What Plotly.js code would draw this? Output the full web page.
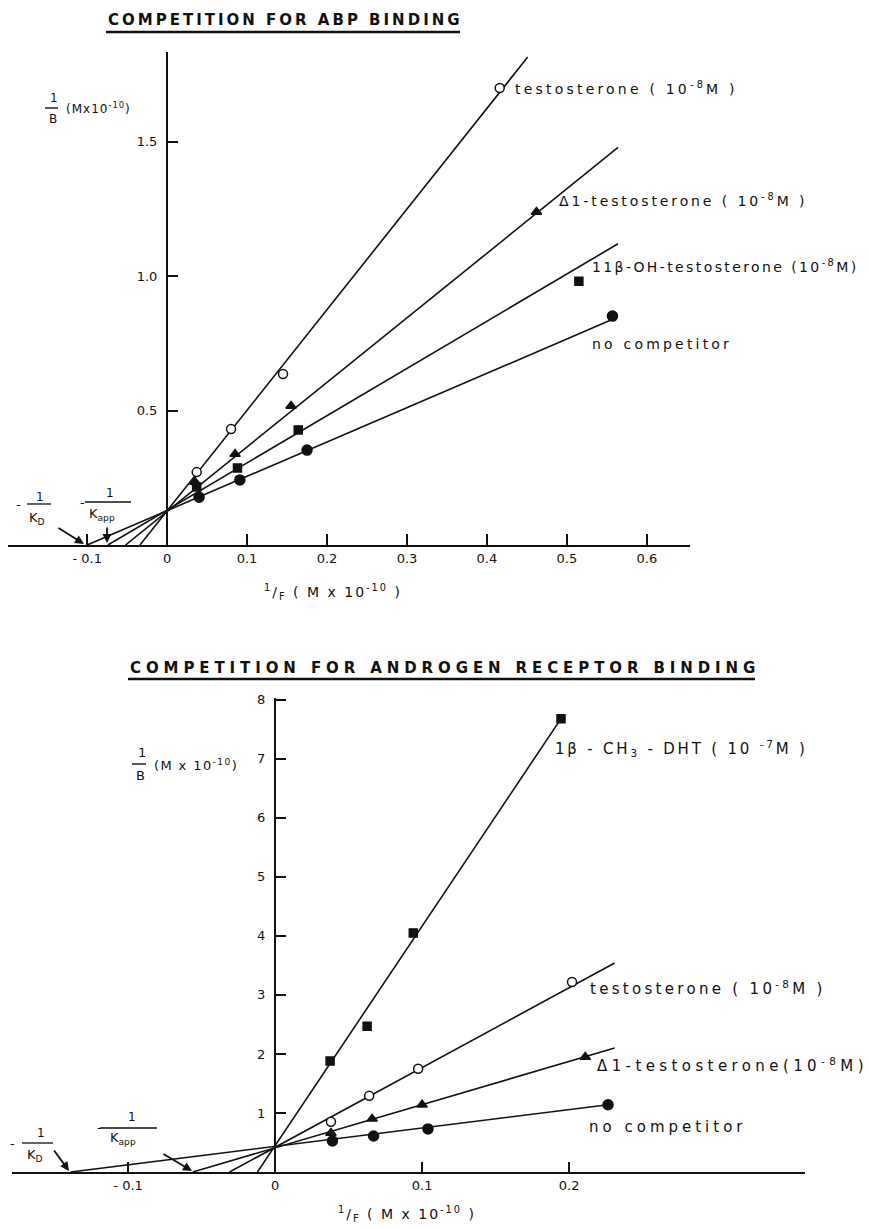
<!DOCTYPE html>
<html>
<head>
<meta charset="utf-8">
<script src="https://cdn.plot.ly/plotly-3.0.1.min.js"></script>
<style>
html,body{margin:0;padding:0;background:#fff;}
#chart{width:869px;height:1229px;}
</style>
</head>
<body>
<div id="chart"></div>
<script>
// ---------- DATA ----------
// Top panel: competition for ABP binding
const topNoCompX = [0.040, 0.091, 0.175, 0.557];
const topNoCompY = [0.178, 0.242, 0.353, 0.851];
const top11bX = [0.037, 0.088, 0.164, 0.515];
const top11bY = [0.216, 0.286, 0.428, 0.981];
const topD1X = [0.035, 0.085, 0.155, 0.462];
const topD1Y = [0.234, 0.338, 0.517, 1.238];
const topTestoX = [0.037, 0.080, 0.145, 0.416];
const topTestoY = [0.271, 0.431, 0.636, 1.699];
// fitted lines (end points)
const topNoCompLineX = [-0.100, 0.558], topNoCompLineY = [0, 0.840];
const top11bLineX = [-0.074, 0.564], top11bLineY = [0, 1.120];
const topD1LineX = [-0.052, 0.564], topD1LineY = [0, 1.478];
const topTestoLineX = [-0.034, 0.451], topTestoLineY = [0, 1.814];
const topXTicks = [-0.1, 0, 0.1, 0.2, 0.3, 0.4, 0.5, 0.6];
const topXTickText = ["- 0.1", "0", "0.1", "0.2", "0.3", "0.4", "0.5", "0.6"];
const topYTicks = [0.5, 1.0, 1.5];
const topYTickText = ["0.5", "1.0", "1.5"];

// Bottom panel: competition for androgen receptor binding
const botNoCompX = [0.039, 0.067, 0.104, 0.2265];
const botNoCompY = [0.525, 0.61, 0.73, 1.14];
const botD1X = [0.038, 0.066, 0.100, 0.211];
const botD1Y = [0.66, 0.90, 1.14, 1.95];
const botTestoX = [0.038, 0.064, 0.0973, 0.202];
const botTestoY = [0.85, 1.29, 1.75, 3.22];
const botDhtX = [0.0374, 0.0626, 0.094, 0.1945];
const botDhtY = [1.88, 2.47, 4.05, 7.68];
const botNoCompLineX = [-0.139, 0.2265], botNoCompLineY = [0, 1.14];
const botD1LineX = [-0.056, 0.231], botD1LineY = [0, 2.10];
const botTestoLineX = [-0.031, 0.231], botTestoLineY = [0, 3.54];
const botDhtLineX = [-0.012, 0.1945], botDhtLineY = [0, 7.68];
const botXTicks = [-0.1, 0, 0.1, 0.2];
const botXTickText = ["- 0.1", "0", "0.1", "0.2"];
const botYTicks = [1, 2, 3, 4, 5, 6, 7, 8];
const botYTickText = ["1", "2", "3", "4", "5", "6", "7", "8"];

// ---------- LAYOUT HELPERS ----------
const W = 869, H = 1229;
const PX = v => v / W;
const PY = v => 1 - v / H;
const FONT = "DejaVu Sans, Verdana, sans-serif";
const INK = "#111";

function line(x, y, xa, ya) {
  return {x: x, y: y, xaxis: xa, yaxis: ya, mode: "lines", type: "scatter",
          line: {color: INK, width: 1.6}, hoverinfo: "skip", showlegend: false, cliponaxis: true};
}
function pts(x, y, xa, ya, symbol, size, fill) {
  return {x: x, y: y, xaxis: xa, yaxis: ya, mode: "markers", type: "scatter",
          marker: {symbol: symbol, size: size, color: fill, line: {color: INK, width: 1.5}},
          showlegend: false, cliponaxis: false};
}

const traces = [
  line(topNoCompLineX, topNoCompLineY, "x", "y"),
  line(top11bLineX, top11bLineY, "x", "y"),
  line(topD1LineX, topD1LineY, "x", "y"),
  line(topTestoLineX, topTestoLineY, "x", "y"),
  pts(topNoCompX, topNoCompY, "x", "y", "circle", 10, INK),
  pts(top11bX, top11bY, "x", "y", "square", 8, INK),
  pts(topD1X, topD1Y, "x", "y", "triangle-up", 9, INK),
  pts(topTestoX, topTestoY, "x", "y", "circle", 9, "#fff"),

  line(botNoCompLineX, botNoCompLineY, "x2", "y2"),
  line(botD1LineX, botD1LineY, "x2", "y2"),
  line(botTestoLineX, botTestoLineY, "x2", "y2"),
  line(botDhtLineX, botDhtLineY, "x2", "y2"),
  pts(botNoCompX, botNoCompY, "x2", "y2", "circle", 10, INK),
  pts(botD1X, botD1Y, "x2", "y2", "triangle-up", 9, INK),
  pts(botTestoX, botTestoY, "x2", "y2", "circle", 9, "#fff"),
  pts(botDhtX, botDhtY, "x2", "y2", "square", 8, INK)
];

// plot rectangles (pixels)
const topBox = {l: 8, r: 690, t: 52, b: 545, y0x: 167};
const botBox = {l: 12, r: 805, t: 698, b: 1172, y0x: 275};

const tickFont = {family: FONT, size: 13, color: INK};
const baseX = {showgrid: false, zeroline: false, showline: true, linecolor: INK, linewidth: 2,
               ticks: "inside", ticklen: 11, tickwidth: 2, tickcolor: INK, tickfont: tickFont,
               tickmode: "array", fixedrange: true};
const baseY = {showgrid: false, zeroline: false, showline: true, linecolor: INK, linewidth: 2,
               ticks: "inside", ticklen: 10, tickwidth: 2, tickcolor: INK, tickfont: tickFont,
               tickmode: "array", fixedrange: true, anchor: "free", ticklabelstandoff: 6};

const layout = {
  width: W, height: H, margin: {l: 0, r: 0, t: 0, b: 0}, paper_bgcolor: "#fff", plot_bgcolor: "rgba(0,0,0,0)",
  showlegend: false, font: {family: FONT, color: INK},
  xaxis: Object.assign({}, baseX, {domain: [PX(topBox.l), PX(topBox.r)], range: [-0.199, 0.654],
          tickvals: topXTicks, ticktext: topXTickText, anchor: "y"}),
  yaxis: Object.assign({}, baseY, {domain: [PY(topBox.b), PY(topBox.t)], range: [0, 1.833],
          tickvals: topYTicks, ticktext: topYTickText, position: PX(topBox.y0x)}),
  xaxis2: Object.assign({}, baseX, {domain: [PX(botBox.l), PX(botBox.r)], range: [-0.179, 0.3605],
          tickvals: botXTicks, ticktext: botXTickText, anchor: "y2", ticklen: 10}),
  yaxis2: Object.assign({}, baseY, {domain: [PY(botBox.b), PY(botBox.t)], range: [0, 8.03],
          tickvals: botYTicks, ticktext: botYTickText, position: PX(botBox.y0x)}),
  annotations: [],
  shapes: []
};

const spacing = [];  // letter spacing (px) per annotation, applied after drawing
function txt(text, x, y, size, ls, opts) {
  layout.annotations.push(Object.assign({text: text, xref: "paper", yref: "paper", x: PX(x), y: PY(y),
    xanchor: "left", yanchor: "middle", align: "left", showarrow: false,
    font: {family: FONT, size: size, color: INK}}, opts || {}));
  spacing.push(ls || 0);
}
function bar(x0, x1, y, w) {
  layout.shapes.push({type: "line", xref: "paper", yref: "paper", x0: PX(x0), x1: PX(x1), y0: PY(y), y1: PY(y),
    line: {color: INK, width: w || 1.5}});
}
function arrow(fromX, fromY, toX, toY) {
  layout.annotations.push({text: "", xref: "paper", yref: "paper", x: PX(toX), y: PY(toY),
    ax: fromX - toX, ay: fromY - toY, axref: "pixel", ayref: "pixel", showarrow: true,
    arrowhead: 2, arrowsize: 1, arrowwidth: 1.8, arrowcolor: INK, standoff: 0});
  spacing.push(0);
}

// titles
txt("COMPETITION FOR ABP BINDING", 106, 20, 15, 3.0, {font: {family: FONT, size: 15, color: INK, weight: "bold"}});
bar(106, 460, 32, 2.5);
txt("COMPETITION FOR ANDROGEN RECEPTOR BINDING", 128, 668, 15, 4.9, {font: {family: FONT, size: 15, color: INK, weight: "bold"}});
bar(128, 755, 679, 2.5);

// top y label
txt("1", 48, 98, 12);
bar(45, 58, 108, 1.4);
txt("B", 47, 119, 12);
txt("(Mx10<sup>-10</sup>)", 64, 108, 12, 1.0);
// top x label
txt("<sup>1</sup>/<sub>F</sub> ( M x 10<sup>-10</sup> )", 262, 592, 14, 2.0);

// bottom y label
txt("1", 136, 752, 13);
bar(132, 146, 764, 1.4);
txt("B", 134, 776, 13);
txt("(M x 10<sup>-10</sup>)", 152, 765, 13, 1.4);
// bottom x label
txt("<sup>1</sup>/<sub>F</sub> ( M x 10<sup>-10</sup> )", 336, 1214, 14, 2.0);

// series labels top
txt("testosterone ( 10<sup>-8</sup>M )", 513, 88, 14, 3.2);
txt("Δ1-testosterone ( 10<sup>-8</sup>M )", 557, 200, 14, 2.9);
txt("11β-OH-testosterone (10<sup>-8</sup>M)", 590, 266, 14, 2.4);
txt("no competitor", 590, 344, 14, 3.2);
// series labels bottom
txt("1β - CH<sub>3</sub> - DHT ( 10 <sup>-7</sup>M )", 553, 748, 15, 2.8);
txt("testosterone ( 10<sup>-8</sup>M )", 588, 988, 15, 3.3);
txt("Δ1-testosterone(10<sup>-8</sup>M)", 595, 1065, 15, 4.4);
txt("no competitor", 587, 1127, 15, 4.0);

// -1/KD and -1/Kapp (top)
txt("-", 14, 504, 13);
txt("1", 34, 497, 12);
bar(27, 51, 504, 1.3);
txt("K<sub>D</sub>", 27, 518, 13);
arrow(57, 527, 84, 544);
txt("-", 78, 502, 13);
txt("1", 104, 493, 12);
bar(85, 131, 502, 1.3);
txt("K<sub>app</sub>", 87, 515, 13);
arrow(107, 526, 107, 543);

// -1/KD and -1/Kapp (bottom)
txt("-", 8, 1143, 13);
txt("1", 35, 1133, 12);
bar(22, 53, 1143, 1.3);
txt("K<sub>D</sub>", 25, 1155, 13);
arrow(53, 1149, 69, 1171);
txt("-", 95, 1127, 13);
txt("1", 126, 1117, 12);
bar(100, 157, 1128, 1.3);
txt("K<sub>app</sub>", 108, 1138, 13);
arrow(162, 1153, 192, 1171);

Plotly.newPlot("chart", traces, layout, {displayModeBar: false, staticPlot: true}).then(function () {
  document.querySelectorAll("g.annotation").forEach(function (g) {
    const i = +g.getAttribute("data-index");
    const el = g.querySelector(".annotation-text");
    if (el && spacing[i]) el.style.letterSpacing = spacing[i] + "px";
  });
});
</script>
</body>
</html>
